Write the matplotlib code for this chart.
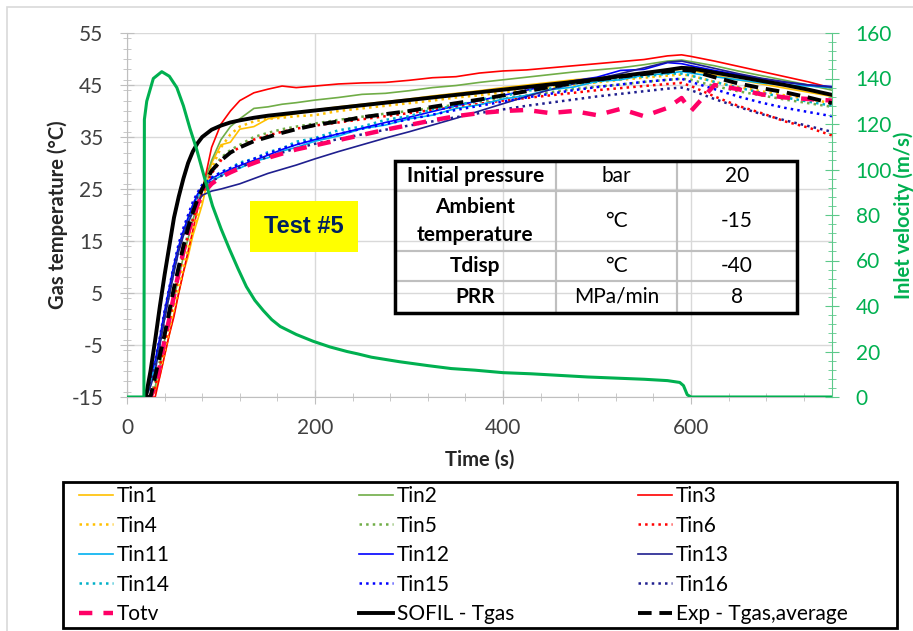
import matplotlib
matplotlib.use('Agg')
import matplotlib.pyplot as plt
from matplotlib.patches import Rectangle
from matplotlib.ticker import MultipleLocator

plt.rcParams['font.family'] = ['Lato', 'DejaVu Sans']
plt.rcParams['axes.unicode_minus'] = False

# time grid of the gas temperature readings (s)
t_gas = [20, 25, 30, 35, 40, 45, 50, 55, 60, 65, 70, 75, 80, 90, 100, 110, 120, 135, 150, 165,
         180, 200, 225, 250, 275, 300, 325, 350, 375, 400, 425, 450, 475, 500, 525, 550, 575,
         590, 600, 625, 650, 675, 700, 725, 750]

tin1 = [-15, -15, -14, -11, -7, -3, 1, 5, 9, 12, 16, 19, 22, 30, 33.5, 34, 36.5, 37, 38.5, 39,
        39.5, 40.2, 40.8, 41.3, 41.8, 42.3, 42.9, 43.4, 43.9, 44.5, 45, 45.5, 46, 46.4, 46.9,
        47.3, 47.8, 48, 47.8, 46.9, 46, 45.2, 44.4, 43.6, 42.8]
tin2 = [-15, -15, -13, -9, -4, 0, 4, 8, 12, 15.5, 19, 22, 25, 30.5, 34.5, 37, 38.5, 40.5, 40.8,
        41.3, 41.6, 42.1, 42.6, 43.2, 43.4, 43.9, 44.5, 44.9, 45.5, 46, 46.5, 47, 47.5, 47.9,
        48.3, 48.9, 49.6, 49.8, 49.5, 48.7, 47.7, 46.8, 45.9, 45, 44]
tin3 = [-15, -15, -15, -11, -7, -3, 0.5, 5, 9, 13, 17, 21, 24.5, 33, 37.5, 40, 42, 43.5, 44.2,
        44.8, 44.5, 44.8, 45.2, 45.4, 45.5, 45.9, 46.4, 46.6, 47.3, 47.7, 47.9, 48.3, 48.7, 49.1,
        49.5, 49.9, 50.6, 50.8, 50.5, 49.6, 48.6, 47.6, 46.6, 45.6, 44.4]
tin4 = [-15, -15, -13, -10, -6, -2, 2, 6, 10, 13.5, 17, 20, 23, 29, 33, 35.5, 37, 38, 38.5, 38.7,
        39, 39.2, 40, 40.5, 41, 41.5, 42, 42.6, 43, 43.6, 44, 44.6, 45, 45.5, 46, 46.4, 46.8, 47,
        46.8, 45.6, 44.6, 43.8, 43, 42.3, 41.5]
tin5 = [-15, -15, -12, -8, -4, 0.5, 5, 9, 13, 16.5, 19.5, 22, 24.5, 28.5, 31, 32.5, 33.5, 35,
        35.8, 36.5, 37, 37.6, 38.3, 38.9, 39.5, 40, 40.6, 41.2, 41.8, 42.4, 43, 43.6, 44.2, 44.7,
        45.1, 45.6, 46, 46.2, 46, 44.8, 43.8, 43, 42.2, 41.5, 40.8]
tin6 = [-15, -15, -13, -9, -5, -0.5, 4, 8.5, 12.5, 16, 19, 22, 24, 28, 30.5, 32, 33, 34.5, 35.3,
        36, 36.6, 37.2, 37.8, 38.4, 39, 39.6, 40.2, 40.8, 41.4, 42, 42.5, 43, 43.5, 44, 44.4,
        44.8, 45.2, 45.4, 44.8, 42.8, 41, 39.6, 38, 36.8, 35.3]
tin11 = [-15, -12, -9, -4.5, 0.5, 5, 9.5, 13.5, 16.5, 19, 21.5, 23.5, 25, 26.5, 27.5, 28.6, 29,
         30.3, 31, 32.3, 33, 34.2, 35.2, 36.6, 37.3, 38.5, 39.2, 40.5, 41.2, 42.3, 43, 44.1, 44.6,
         45.7, 46, 46.9, 47.2, 47.6, 47.3, 46.6, 46, 45.4, 45, 44.8, 44.5]
tin12 = [-15, -11, -8, -3.5, 1.5, 6, 10.5, 14, 17, 19.5, 22, 24, 25.5, 27, 28, 28.8, 29.5, 30.5,
         31.5, 32.6, 33.5, 34.5, 35.6, 36.7, 37.8, 38.8, 39.9, 41, 42, 43, 44, 45, 45.8, 46.5,
         47.8, 48, 49.3, 49.1, 48.7, 47.8, 47, 46.2, 45.5, 45, 44.7]
tin13 = [-15, -13, -10, -5, 0, 4.5, 9, 13, 16, 18.5, 20.5, 22.5, 23.8, 24.6, 25, 25.5, 26, 27,
         28, 28.8, 29.6, 30.8, 32.2, 33.5, 34.8, 36, 37.3, 38.6, 40, 41.4, 42.8, 44.1, 45.2,
         46.2, 47.2, 48.3, 49.4, 49.6, 49.2, 48.2, 47.2, 46.3, 45.6, 45, 44.6]
tin14 = [-15, -12, -8.5, -4, 1, 5.5, 10, 14, 17, 19.5, 22, 24, 25.5, 27, 28.3, 29, 30.1, 30.8,
         32.1, 32.8, 34.1, 34.8, 36.3, 37, 38.3, 39, 40.3, 41, 42.2, 42.8, 43.9, 44.3, 45.3, 45.6,
         46.4, 46.6, 47.2, 47.2, 46.8, 45.6, 44.5, 43.5, 42.6, 41.8, 41]
tin15 = [-15, -11, -8, -3.5, 1.5, 6, 10.5, 14.5, 17.5, 20, 22.5, 24.3, 25.8, 27.2, 28.2, 29, 29.8,
         30.8, 31.8, 32.8, 33.6, 34.6, 35.6, 36.6, 37.5, 38.4, 39.3, 40.2, 41, 41.8, 42.6, 43.3,
         44, 44.6, 45.1, 45.6, 46, 46.2, 45.6, 44.2, 42.8, 41.6, 40.6, 39.8, 39]
tin16 = [-15, -12, -9, -4.5, 0.5, 5, 9.5, 13.5, 16.5, 19, 21.5, 23.5, 25, 26.5, 27.5, 28.4, 29.2,
         30.2, 31.2, 32, 32.8, 33.7, 34.6, 35.5, 36.4, 37.2, 38, 38.8, 39.6, 40.3, 41, 41.6, 42.2,
         42.8, 43.3, 43.8, 44.3, 44.5, 44, 42.3, 40.8, 39.4, 38.2, 37.1, 36]
totv = [-15, -15, -13, -9, -4, 0, 4.5, 9, 13, 16.5, 19.5, 22, 24, 26, 27.3, 28.2, 29, 30, 31, 31.8,
        32.6, 33.4, 34.4, 35.4, 36.4, 37.3, 38.2, 39, 39.6, 40, 40.2, 39.6, 40, 39.2, 40.4, 39,
        40.6, 42.5, 40, 45, 44.2, 43.2, 42.6, 42.3, 42]
sofil = [-15, -10, -4, 2.5, 8.5, 14, 19.5, 23.5, 27, 30, 32.2, 33.8, 35, 36.4, 37.2, 37.8, 38.2,
         38.7, 39.1, 39.4, 39.7, 40.1, 40.6, 41.1, 41.6, 42.1, 42.6, 43.1, 43.6, 44.1, 44.6, 45.1,
         45.6, 46.1, 46.7, 47.3, 47.9, 48.3, 48.2, 47.4, 46.6, 45.8, 45, 44.1, 43.1]
exp_avg = [-15, -15, -11, -7, -3, 1.5, 6, 10, 14, 17.5, 20.5, 23, 25, 28.5, 30.5, 32, 33, 34.2, 35,
           35.8, 36.5, 37.3, 38, 38.8, 39.4, 40, 40.8, 41.5, 42.2, 43, 43.8, 44.6, 45.4, 46, 46.6,
           47.1, 47.6, 47.9, 47.8, 46.5, 45.3, 44.4, 43.6, 42.6, 41.5]

# inlet velocity (m/s), right axis
t_vel = [0, 18, 18.5, 21, 28, 37, 45, 53, 60, 67, 74, 82, 91, 100, 109, 118, 127, 136, 145, 154,
         163, 180, 198, 216, 234, 245, 260, 290, 320, 345, 370, 400, 430, 460, 490, 520, 550,
         575, 588, 592, 596, 600, 750]
vel = [0, 0, 122, 130, 140, 143, 141, 136, 128, 118, 109, 97, 84, 74, 65, 56.5, 48.5, 42.5, 38,
       34, 31, 27.5, 24.5, 22, 20, 19, 17.5, 15.5, 13.8, 12.5, 11.8, 10.7, 10.2, 9.5, 8.8,
       8.3, 7.8, 7.2, 6.4, 5, 1, 0, 0]

table_rows = [['Initial pressure', 'bar', '20'],
              ['Ambient\ntemperature', '°C', '-15'],
              ['Tdisp', '°C', '-40'],
              ['PRR', 'MPa/min', '8']]

series = [
    ('Tin1', tin1, '#FFC000', '-', 1.2),
    ('Tin2', tin2, '#70AD47', '-', 1.2),
    ('Tin3', tin3, '#FF0000', '-', 1.2),
    ('Tin4', tin4, '#FFC000', ':', 1.8),
    ('Tin5', tin5, '#70AD47', ':', 1.8),
    ('Tin6', tin6, '#FF0000', ':', 1.8),
    ('Tin11', tin11, '#00B0F0', '-', 1.2),
    ('Tin12', tin12, '#0000FF', '-', 1.2),
    ('Tin13', tin13, '#1F1F8F', '-', 1.2),
    ('Tin14', tin14, '#00B0C8', ':', 1.8),
    ('Tin15', tin15, '#0000FF', ':', 1.8),
    ('Tin16', tin16, '#1F1F8F', ':', 1.8),
    ('Totv', totv, '#FF0066', (0, (3, 2.5)), 3.2),
    ('SOFIL - Tgas', sofil, 'black', '-', 2.8),
    ('Exp - Tgas,average', exp_avg, 'black', (0, (3.5, 2)), 2.8),
]

fig = plt.figure(figsize=(9.13, 6.31), dpi=100)
ax = fig.add_axes([127 / 913, 1 - 397 / 631, 705 / 913, 364 / 631])
ax2 = ax.twinx()

lines = {}
for label, vals, color, ls, lw in series:
    ln, = ax.plot(t_gas, vals, color=color, linestyle=ls, linewidth=lw, label=label)
    lines[label] = ln

ax2.plot(t_vel, vel, color='#00B050', linewidth=2.2)

# left axis
ax.set_xlim(0, 750)
ax.set_ylim(-15, 55)
ax.set_yticks(range(-15, 56, 10))
ax.yaxis.set_minor_locator(MultipleLocator(2))
ax.set_xticks([0, 200, 400, 600])
ax.xaxis.set_minor_locator(MultipleLocator(40))
ax.grid(True, which='major', color='#D9D9D9', linewidth=1)
ax.set_axisbelow(True)
for s in ['top', 'right']:
    ax.spines[s].set_visible(False)
for s in ['left', 'bottom']:
    ax.spines[s].set_color('#BFBFBF')
ax.tick_params(which='major', direction='inout', length=10, color='#BFBFBF',
               labelsize=15, labelcolor='#404040')
ax.tick_params(axis='y', pad=12)
ax.tick_params(axis='x', pad=10)
ax.tick_params(which='minor', direction='inout', length=6, color='#BFBFBF')
ax.set_xlabel('Time (s)', fontsize=14.5, fontweight='bold', color='#262626')
ax.xaxis.set_label_coords(0.5, -0.145)
ax.set_ylabel('Gas temperature (°C)', fontsize=14.5, fontweight='bold', color='#262626')
ax.yaxis.set_label_coords(-0.084, 0.5)

# right axis
ax2.set_ylim(0, 160)
ax2.set_yticks(range(0, 161, 20))
ax2.yaxis.set_minor_locator(MultipleLocator(4))
for s in ['top', 'left', 'bottom']:
    ax2.spines[s].set_visible(False)
ax2.spines['right'].set_color('#5CC98A')
ax2.tick_params(which='major', direction='inout', length=10, color='#5CC98A',
                labelsize=15, labelcolor='#00B050', pad=12)
ax2.tick_params(which='minor', direction='inout', length=6, color='#5CC98A')
ax2.set_ylabel('Inlet velocity (m/s)', fontsize=14.5, fontweight='bold', color='#00B050')
ax2.yaxis.set_label_coords(1.0865, 0.5)

# test label
ax.text(0.251, 0.468, 'Test #5', transform=ax.transAxes, ha='center', va='center',
        fontsize=17, fontweight='bold', color='#002060', family='Liberation Sans', zorder=12,
        bbox=dict(boxstyle='square,pad=0.6', fc='#FFFF00', ec='none'))

# parameter table
tb = [0.380, 0.231, 0.570, 0.417]
tbl = ax.table(cellText=table_rows, cellLoc='center', bbox=tb)
tbl.auto_set_font_size(False)
col_w = [161, 121, 120]
row_h = [30, 60, 30, 32]
for (r, c), cell in tbl.get_celld().items():
    cell.set_width(col_w[c])
    cell.set_height(row_h[r])
    cell.set_edgecolor('#BFBFBF')
    cell.set_linewidth(1.5)
    cell.set_facecolor('none')
    txt = cell.get_text()
    txt.set_fontsize(15)
    txt.set_color('black')
    if c == 0:
        txt.set_fontweight('bold')
        txt.set_linespacing(1.45)
tbl.set_zorder(10)
ax.add_patch(Rectangle((tb[0], tb[1]), tb[2], tb[3], transform=ax.transAxes, fill=False,
                       ec='black', lw=2.5, zorder=11, clip_on=False))

# legend box and three columns
fig.patches.append(Rectangle((63 / 913, 1 - 628 / 631), 834 / 913, 146 / 631,
                             transform=fig.transFigure, fill=False, ec='black', lw=2))
fig.patches.append(Rectangle((7 / 913, -0.01), 1, 1 - 7 / 631 + 0.01,
                             transform=fig.transFigure, fill=False, ec='#D9D9D9', lw=1.2))
cols = [['Tin1', 'Tin4', 'Tin11', 'Tin14', 'Totv'],
        ['Tin2', 'Tin5', 'Tin12', 'Tin15', 'SOFIL - Tgas'],
        ['Tin3', 'Tin6', 'Tin13', 'Tin16', 'Exp - Tgas,average']]
col_x = [79, 359, 638]
for names, x in zip(cols, col_x):
    fig.legend(handles=[lines[n] for n in names], loc='upper left',
               bbox_to_anchor=(x / 913, 1 - 486 / 631), frameon=False,
               prop={'size': 15}, handlelength=1.63, handletextpad=0.2,
               labelspacing=0.46, borderpad=0, borderaxespad=0)

fig.savefig('out.png', dpi=100)
